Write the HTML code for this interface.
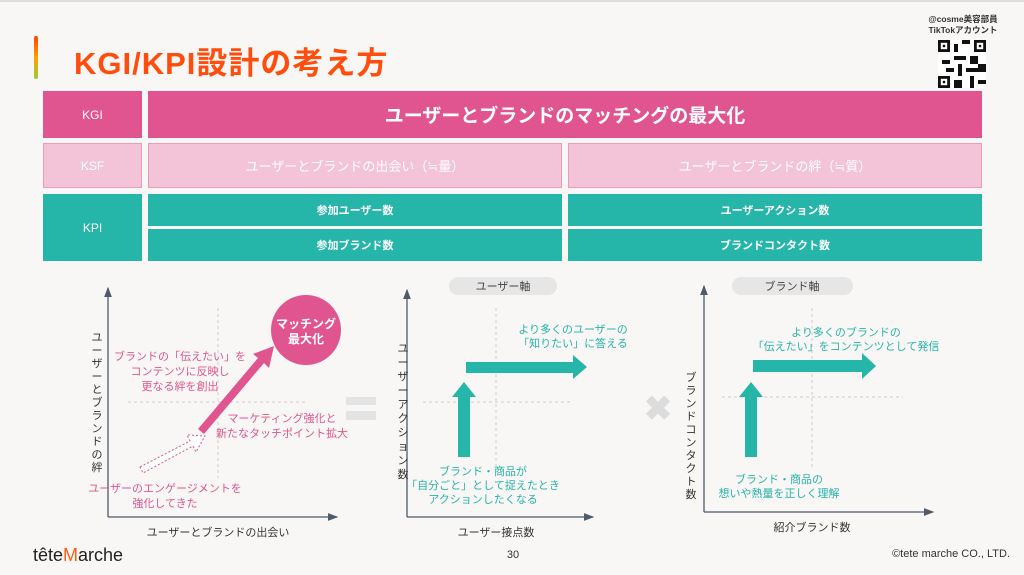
<!DOCTYPE html>
<html><head><meta charset="utf-8"><style>
*{margin:0;padding:0;box-sizing:border-box}
body{width:1024px;height:575px;background:#f8f7f5;position:relative;overflow:hidden;font-family:"Liberation Sans","Noto Sans CJK JP",sans-serif}
.a{position:absolute}
.c{position:absolute;display:flex;align-items:center;justify-content:center;color:#fff}
</style></head><body>
<div class="a" style="left:0;top:0;width:1024px;height:2px;background:#ddd"></div>
<div class="a" style="left:34px;top:36px;width:4px;height:43px;background:linear-gradient(#ff4500,#ffa000,#9acd32);border-radius:2px"></div>
<div class="a" style="left:74px;top:38px;font-size:31px;font-weight:bold;color:#ff4d0d;letter-spacing:1px">KGI/KPI設計の考え方</div>
<div class="a" style="left:920px;top:14px;width:86px;text-align:center;font-size:8.5px;font-weight:bold;color:#333;line-height:11px">@cosme美容部員<br>TikTokアカウント</div>
<svg class="a" style="left:938px;top:40px" width="48" height="48" viewBox="0 0 12 12"><rect width="12" height="12" fill="#fff"/><g fill="#111"><rect x="0" y="0" width="3" height="3"/><rect x="9" y="0" width="3" height="3"/><rect x="0" y="9" width="3" height="3"/><rect x="4" y="1" width="1" height="2"/><rect x="6" y="0" width="2" height="1"/><rect x="4" y="4" width="3" height="1"/><rect x="8" y="4" width="2" height="2"/><rect x="1" y="5" width="2" height="1"/><rect x="5" y="6" width="1" height="3"/><rect x="7" y="7" width="3" height="1"/><rect x="4" y="10" width="2" height="2"/><rect x="8" y="9" width="1" height="3"/><rect x="10" y="10" width="2" height="1"/><rect x="2" y="7" width="2" height="1"/><rect x="10" y="6" width="2" height="2"/></g><g fill="#fff"><rect x=".7" y=".7" width="1.6" height="1.6"/><rect x="9.7" y=".7" width="1.6" height="1.6"/><rect x=".7" y="9.7" width="1.6" height="1.6"/></g><g fill="#111"><rect x="1.2" y="1.2" width=".6" height=".6"/><rect x="10.2" y="1.2" width=".6" height=".6"/><rect x="1.2" y="10.2" width=".6" height=".6"/></g></svg>

<div class="c" style="left:43px;top:91px;width:99px;height:47px;background:#e0558f;font-size:12px">KGI</div>
<div class="c" style="left:148px;top:91px;width:834px;height:47px;background:#e0558f;font-size:19px;font-weight:bold">ユーザーとブランドのマッチングの最大化</div>
<div class="c" style="left:43px;top:143px;width:99px;height:45px;background:#f3c4d8;border:1px solid #ec9bbd;font-size:12px">KSF</div>
<div class="c" style="left:148px;top:143px;width:414px;height:45px;background:#f3c4d8;border:1px solid #ec9bbd;font-size:13px">ユーザーとブランドの出会い（≒量）</div>
<div class="c" style="left:568px;top:143px;width:414px;height:45px;background:#f3c4d8;border:1px solid #ec9bbd;font-size:13px">ユーザーとブランドの絆（≒質）</div>
<div class="c" style="left:43px;top:194px;width:99px;height:67px;background:#26b5a9;font-size:12px">KPI</div>
<div class="c" style="left:148px;top:194px;width:414px;height:32px;background:#26b5a9;font-size:11px;font-weight:bold">参加ユーザー数</div>
<div class="c" style="left:568px;top:194px;width:414px;height:32px;background:#26b5a9;font-size:11px;font-weight:bold">ユーザーアクション数</div>
<div class="c" style="left:148px;top:229px;width:414px;height:32px;background:#26b5a9;font-size:11px;font-weight:bold">参加ブランド数</div>
<div class="c" style="left:568px;top:229px;width:414px;height:32px;background:#26b5a9;font-size:11px;font-weight:bold">ブランドコンタクト数</div>

<svg class="a" style="left:0;top:0" width="1024" height="575" font-family="Liberation Sans, Noto Sans CJK JP, sans-serif">
<defs><marker id="ah" markerWidth="8" markerHeight="8" refX="7" refY="4" orient="auto"><path d="M0,1 L8,4 L0,7z" fill="#4f5a6a"/></marker></defs>
<g stroke="#4f5a6a" stroke-width="1.3" fill="none">
<path d="M108,517 V288" marker-end="url(#ah)"/><path d="M108,517 H337" marker-end="url(#ah)"/>
<path d="M407,517 V290" marker-end="url(#ah)"/><path d="M407,517 H593" marker-end="url(#ah)"/>
<path d="M704,512 V286" marker-end="url(#ah)"/><path d="M704,512 H933" marker-end="url(#ah)"/>
</g>
<g stroke="#ccc" stroke-width="1" stroke-dasharray="3,3" fill="none">
<path d="M218,308 V478"/><path d="M128,402 H308"/>
<path d="M496,308 V468"/><path d="M423,402 H570"/>
<path d="M812,308 V468"/><path d="M722,397 H903"/>
</g>
<rect x="346" y="397" width="30" height="8" fill="#e3e3e3"/><rect x="346" y="411" width="30" height="9" fill="#e3e3e3"/>
<text x="658" y="420" font-size="34" font-weight="bold" fill="#dcdcdc" text-anchor="middle">✖</text>
<circle cx="306" cy="330" r="35" fill="#e0558f"/>
<text x="306" y="328" font-size="12" font-weight="bold" fill="#fff" text-anchor="middle">マッチング</text>
<text x="306" y="343" font-size="12" font-weight="bold" fill="#fff" text-anchor="middle">最大化</text>
<polygon points="198,429 258,358 253,354 274,346 269,368 264,363 204,434" fill="#e0558f"/>
<polygon points="140,467 190,441 187,435 205,436 196,452 193,446 143,473" fill="#fff" stroke="#e0558f" stroke-dasharray="2,2"/>
<g fill="#e0558f" font-size="11" text-anchor="middle">
<text x="180" y="360">ブランドの「伝えたい」を</text><text x="180" y="375">コンテンツに反映し</text><text x="180" y="390">更なる絆を創出</text>
<text x="282" y="422">マーケティング強化と</text><text x="282" y="437">新たなタッチポイント拡大</text>
<text x="165" y="492">ユーザーのエンゲージメントを</text><text x="165" y="507">強化してきた</text>
</g>
<text x="218" y="536" font-size="11" fill="#333" text-anchor="middle">ユーザーとブランドの出会い</text>
<text font-size="11" fill="#333" text-anchor="middle"><tspan x="97" y="341">ユ</tspan><tspan x="97" y="354">ー</tspan><tspan x="97" y="367">ザ</tspan><tspan x="97" y="380">ー</tspan><tspan x="97" y="393">と</tspan><tspan x="97" y="406">ブ</tspan><tspan x="97" y="419">ラ</tspan><tspan x="97" y="432">ン</tspan><tspan x="97" y="445">ド</tspan><tspan x="97" y="458">の</tspan><tspan x="97" y="471">絆</tspan></text>

<rect x="449" y="277" width="108" height="18" rx="9" fill="#e6e6e6"/>
<text x="503" y="290" font-size="11" fill="#444" text-anchor="middle">ユーザー軸</text>
<rect x="732" y="277" width="121" height="18" rx="9" fill="#e6e6e6"/>
<text x="792" y="290" font-size="11" fill="#444" text-anchor="middle">ブランド軸</text>
<polygon points="458,457 458,397 452,397 464,382 476,397 470,397 470,457" fill="#26b5a9"/>
<polygon points="466,362 573,362 573,355 587,367 573,379 573,373 466,373" fill="#26b5a9"/>
<polygon points="745,457 745,397 739,397 751,382 763,397 757,397 757,457" fill="#26b5a9"/>
<polygon points="753,360 862,360 862,353 876,366 862,379 862,372 753,372" fill="#26b5a9"/>
<g fill="#26b5a9" font-size="11" text-anchor="middle">
<text x="573" y="333">より多くのユーザーの</text><text x="573" y="347">「知りたい」に答える</text>
<text x="483" y="475">ブランド・商品が</text><text x="483" y="489">「自分ごと」として捉えたとき</text><text x="483" y="503">アクションしたくなる</text>
<text x="846" y="336">より多くのブランドの</text><text x="846" y="350">「伝えたい」をコンテンツとして発信</text>
<text x="779" y="483">ブランド・商品の</text><text x="779" y="497">想いや熱量を正しく理解</text>
</g>
<text x="496" y="536" font-size="11" fill="#333" text-anchor="middle">ユーザー接点数</text>
<text x="812" y="531" font-size="11" fill="#333" text-anchor="middle">紹介ブランド数</text>
<text font-size="11" fill="#333" text-anchor="middle"><tspan x="403" y="352">ユ</tspan><tspan x="403" y="366">ー</tspan><tspan x="403" y="380">ザ</tspan><tspan x="403" y="394">ー</tspan><tspan x="403" y="408">ア</tspan><tspan x="403" y="422">ク</tspan><tspan x="403" y="436">シ</tspan><tspan x="403" y="450">ョ</tspan><tspan x="403" y="464">ン</tspan><tspan x="403" y="478">数</tspan></text>
<text font-size="11" fill="#333" text-anchor="middle"><tspan x="691" y="381">ブ</tspan><tspan x="691" y="394">ラ</tspan><tspan x="691" y="407">ン</tspan><tspan x="691" y="420">ド</tspan><tspan x="691" y="433">コ</tspan><tspan x="691" y="446">ン</tspan><tspan x="691" y="459">タ</tspan><tspan x="691" y="472">ク</tspan><tspan x="691" y="485">ト</tspan><tspan x="691" y="498">数</tspan></text>
<text x="513" y="558" font-size="11" fill="#333" text-anchor="middle">30</text>
<text x="1010" y="557" font-size="11" fill="#333" text-anchor="end">©tete marche CO., LTD.</text>
<text x="33" y="561" font-size="18" fill="#222">tête<tspan fill="#ff5a10">M</tspan>arche</text>
</svg>
</body></html>
